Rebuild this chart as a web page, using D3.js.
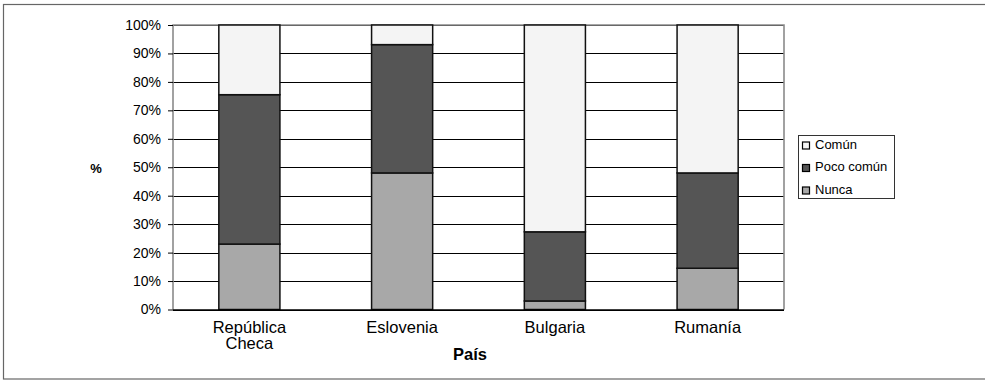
<!DOCTYPE html>
<html>
<head>
<meta charset="utf-8">
<script src="https://cdn.jsdelivr.net/npm/d3@7"></script>
<style>
  html, body { margin: 0; padding: 0; background: #fff; }
  svg { display: block; font-family: "Liberation Sans", Arial, sans-serif; }
</style>
</head>
<body>
<svg id="chart" width="985" height="380"></svg>
<script>
// Countries on the x axis
const categories = ["República Checa", "Eslovenia", "Bulgaria", "Rumanía"];

// Share of respondents per answer (percent of each country's total)
const nunca     = [23.0, 48.0, 3.0, 14.5];
const pocoComun = [52.5, 45.1, 24.3, 33.5];
const comun     = [24.5, 6.9, 72.7, 52.0];

// Series in stacking order (bottom to top) and in legend order
const seriesKeys   = ["Nunca", "Poco común", "Común"];
const legendKeys   = ["Común", "Poco común", "Nunca"];
const seriesColors = ["#a8a8a8", "#555555", "#f4f4f4"];

const yTickValues = [0, 10, 20, 30, 40, 50, 60, 70, 80, 90, 100];

const rows = categories.map((c, i) => ({
  pais: c,
  "Nunca": nunca[i],
  "Poco común": pocoComun[i],
  "Común": comun[i]
}));

const svg = d3.select("#chart");

// Outer frame
svg.append("rect")
  .attr("x", 3.5).attr("y", 4.5)
  .attr("width", 990).attr("height", 374.5)
  .attr("fill", "none").attr("stroke", "#666").attr("stroke-width", 1.2);

const plot = { left: 173, right: 784, top: 25, bottom: 309.5 };

const x = d3.scaleBand()
  .domain(categories)
  .range([plot.left, plot.right])
  .paddingInner(0.6)
  .paddingOuter(0.3);

const y = d3.scaleLinear()
  .domain([0, 100])
  .range([plot.bottom, plot.top]);

const color = d3.scaleOrdinal().domain(seriesKeys).range(seriesColors);

// Horizontal gridlines
svg.append("g")
  .selectAll("line")
  .data(yTickValues)
  .join("line")
  .attr("x1", plot.left).attr("x2", plot.right)
  .attr("y1", d => Math.round(y(d)) + 0.5)
  .attr("y2", d => Math.round(y(d)) + 0.5)
  .attr("stroke", "#000").attr("stroke-width", 1);

// Plot area border (grey left, top and right sides)
svg.append("path")
  .attr("d", `M${plot.left},${plot.bottom} V${plot.top} H${plot.right} V${plot.bottom}`)
  .attr("fill", "none").attr("stroke", "#8a8a8a").attr("stroke-width", 1.6);

// Stacked bars
const stacked = d3.stack().keys(seriesKeys)(rows);

svg.append("g")
  .selectAll("g")
  .data(stacked)
  .join("g")
  .attr("fill", d => color(d.key))
  .selectAll("rect")
  .data(d => d)
  .join("rect")
  .attr("x", d => x(d.data.pais))
  .attr("width", x.bandwidth())
  .attr("y", d => y(d[1]))
  .attr("height", d => y(d[0]) - y(d[1]))
  .attr("stroke", "#111").attr("stroke-width", 1.5);

// Y axis
const yAxis = d3.axisLeft(y)
  .tickValues(yTickValues)
  .tickFormat(d => d + "%")
  .tickSizeInner(5)
  .tickSizeOuter(0)
  .tickPadding(7);

const gy = svg.append("g")
  .attr("transform", `translate(${plot.left},0)`)
  .call(yAxis);
gy.select(".domain").remove();
gy.selectAll(".tick line").attr("stroke", "#000");
gy.selectAll(".tick text")
  .attr("font-family", "Liberation Sans, Arial, sans-serif")
  .attr("font-size", 14).attr("fill", "#000");

// X axis baseline
const xAxis = d3.axisBottom(x).tickSize(0).tickPadding(0);
const gx = svg.append("g")
  .attr("transform", `translate(0,${plot.bottom})`)
  .call(xAxis);
gx.select(".domain")
  .attr("d", `M${plot.left},0.5H${plot.right}`)
  .attr("stroke", "#000").attr("stroke-width", 1.5);
gx.selectAll(".tick text").each(function (d) {
  const t = d3.select(this);
  const words = d.split(" ");
  t.text(null)
    .attr("font-family", "Liberation Sans, Arial, sans-serif")
    .attr("font-size", 16.5).attr("fill", "#000")
    .attr("y", 0).attr("dy", null);
  words.forEach((w, i) => {
    t.append("tspan")
      .attr("x", 0)
      .attr("y", 23 + i * 16.5)
      .text(w);
  });
});

// Axis titles
svg.append("text")
  .attr("x", 470).attr("y", 360)
  .attr("text-anchor", "middle")
  .attr("font-size", 16.5).attr("font-weight", "bold")
  .text("País");

svg.append("text")
  .attr("x", 96).attr("y", 172.5)
  .attr("text-anchor", "middle")
  .attr("font-size", 13).attr("font-weight", "bold")
  .text("%");

// Legend
const legend = svg.append("g");
legend.append("rect")
  .attr("x", 798.5).attr("y", 135.5)
  .attr("width", 96).attr("height", 63)
  .attr("fill", "#fff").attr("stroke", "#333").attr("stroke-width", 1);

const legendItems = legend.selectAll("g.item")
  .data(legendKeys)
  .join("g")
  .attr("class", "item")
  .attr("transform", (d, i) => `translate(0,${148.5 + i * 22.5})`);

legendItems.append("rect")
  .attr("x", 802.5).attr("y", -6.5)
  .attr("width", 7).attr("height", 7)
  .attr("fill", d => color(d))
  .attr("stroke", "#000").attr("stroke-width", 1.2);

legendItems.append("text")
  .attr("x", 815).attr("y", 0)
  .attr("font-size", 13)
  .attr("fill", "#000")
  .text(d => d);
</script>
</body>
</html>
